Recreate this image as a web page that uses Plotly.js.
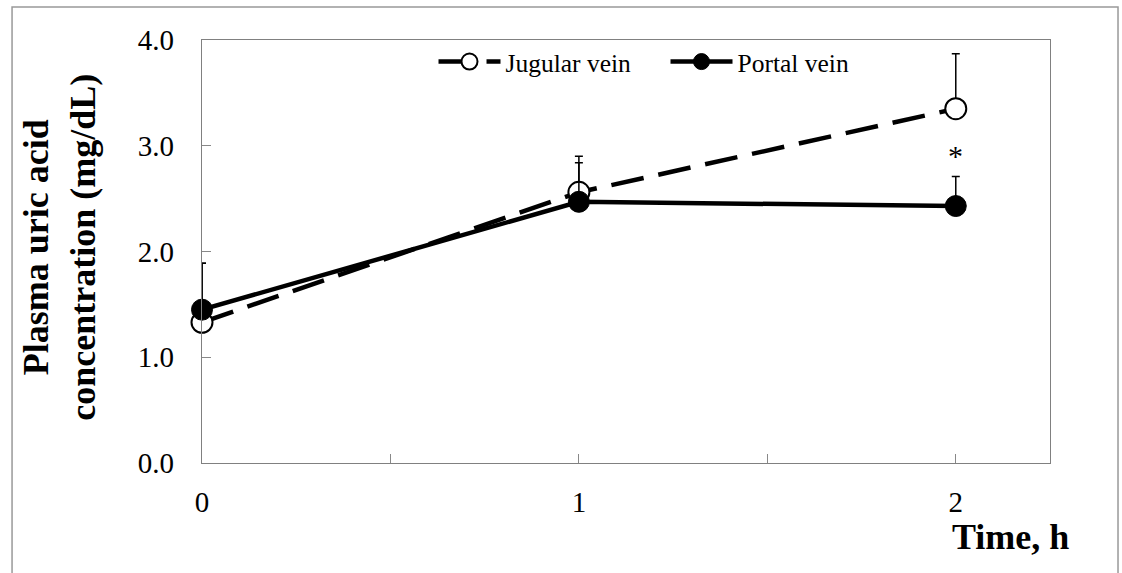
<!DOCTYPE html>
<html>
<head>
<meta charset="utf-8">
<script src="https://cdn.plot.ly/plotly-3.0.1.min.js"></script>
<style>html,body{margin:0;padding:0;background:#fff;}#chart{width:1122px;height:573px;}</style>
</head>
<body>
<div id="chart"></div>
<script>
var timeH = [0, 1, 2];
var jugularVein = [1.33, 2.56, 3.35];
var jugularErr = [0.56, 0.34, 0.52];
var portalVein = [1.45, 2.47, 2.43];
var portalErr = [0.44, 0.37, 0.28];
var xTickVals = [0, 0.5, 1, 1.5, 2];
var xTickText = ['0', '', '1', '', '2'];
var yTickVals = [0, 1, 2, 3, 4];
var yTickText = ['0.0', '1.0', '2.0', '3.0', '4.0'];
var sigMark = {x: 2, y: 2.91, text: '*'};

var serif = 'Liberation Serif, Times New Roman, serif';

var traces = [
  {
    x: timeH, y: jugularVein, name: 'Jugular vein', type: 'scatter', mode: 'lines+markers',
    line: {color: '#000', width: 4.5, dash: '33px,15px'},
    marker: {symbol: 'circle', size: 21, color: '#fff', line: {color: '#000', width: 2}},
    error_y: {type: 'data', array: jugularErr, arrayminus: [0,0,0], symmetric: false, color: '#000', thickness: 1.5, width: 4},
    cliponaxis: false
  },
  {
    x: timeH, y: portalVein, name: 'Portal vein', type: 'scatter', mode: 'lines+markers',
    line: {color: '#000', width: 4.5},
    marker: {symbol: 'circle', size: 21, color: '#000', line: {color: '#000', width: 1}},
    error_y: {type: 'data', array: portalErr, arrayminus: [0,0,0], symmetric: false, color: '#000', thickness: 1.5, width: 4},
    cliponaxis: false
  }
];

var layout = {
  width: 1122, height: 573,
  margin: {l: 202, r: 72, t: 40, b: 110},
  paper_bgcolor: '#fff', plot_bgcolor: '#fff',
  font: {family: serif, color: '#000'},
  showlegend: true,
  legend: {
    orientation: 'h', x: 0.273, y: 0.948, xanchor: 'left', yanchor: 'middle',
    font: {family: serif, size: 25.5, color: '#000'},
    itemwidth: 62, entrywidth: 155, entrywidthmode: 'pixels',
    bgcolor: 'rgba(0,0,0,0)', traceorder: 'normal'
  },
  xaxis: {
    range: [0, 2.25], tickmode: 'array', tickvals: xTickVals, ticktext: xTickText,
    ticks: 'inside', ticklen: 9, tickcolor: '#888', tickwidth: 1,
    showline: true, linecolor: '#808080', linewidth: 1.2, mirror: true,
    showgrid: false, zeroline: false,
    tickfont: {family: serif, size: 29, color: '#000'}, ticklabelstandoff: 13
  },
  yaxis: {
    range: [0, 4], tickmode: 'array', tickvals: yTickVals, ticktext: yTickText,
    ticks: 'inside', ticklen: 9, tickcolor: '#888', tickwidth: 1,
    showline: true, linecolor: '#808080', linewidth: 1.2, mirror: true,
    showgrid: false, zeroline: false,
    tickfont: {family: serif, size: 29, color: '#000'}, ticklabelstandoff: 21
  },
  annotations: [
    {xref: 'x', yref: 'y', x: sigMark.x, y: sigMark.y, text: sigMark.text, showarrow: false,
     font: {family: serif, size: 30, color: '#000'}, xanchor: 'center', yanchor: 'middle'},
    {xref: 'paper', yref: 'paper', x: -0.168, y: 0.51, text: '<b>Plasma uric acid<br>concentration (mg/dL)</b>',
     textangle: -90, showarrow: false, font: {family: serif, size: 36, color: '#000'}, xanchor: 'center', yanchor: 'middle'},
    {xref: 'paper', yref: 'paper', x: 0.953, y: -0.175, text: '<b>Time, h</b>', showarrow: false,
     font: {family: serif, size: 36, color: '#000'}, xanchor: 'center', yanchor: 'middle'}
  ],
  shapes: [
    {type: 'rect', xref: 'paper', yref: 'paper', x0: -0.224, x1: 1.0802, y0: -0.35, y1: 1.078,
     line: {color: '#999', width: 1.5}, fillcolor: 'rgba(0,0,0,0)', layer: 'below'}
  ]
};

Plotly.newPlot('chart', traces, layout, {displayModeBar: false, staticPlot: true});
</script>
</body>
</html>
